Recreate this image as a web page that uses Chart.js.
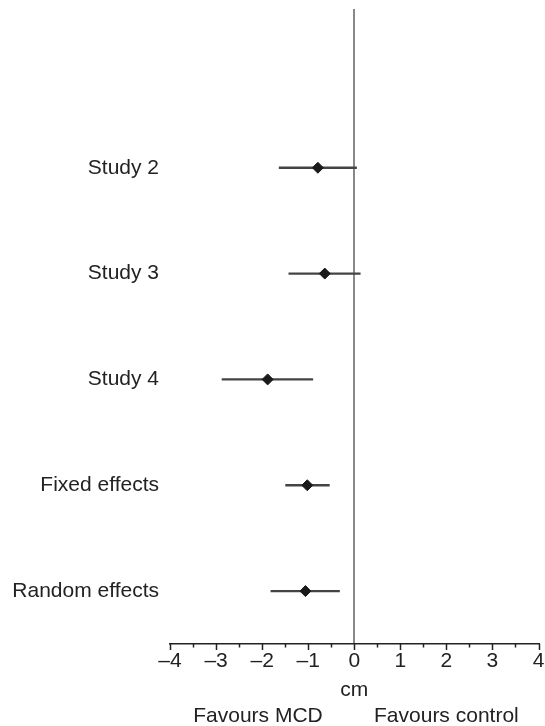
<!DOCTYPE html>
<html lang="en">
<head>
    <meta charset="UTF-8">
    <title>Forest plot</title>
    <script src="https://cdn.jsdelivr.net/npm/chart.js"></script>
    <style>
        html, body { margin: 0; padding: 0; background: #fff; }
        #wrap { width: 545px; height: 726px; }
    </style>
</head>
<body>
    <div id="wrap"><canvas id="forest"></canvas></div>

    <script>
        // Study rows (the top slot is left empty, as in the original figure)
        const studies = ['Study 2', 'Study 3', 'Study 4', 'Fixed effects', 'Random effects'];
        const means = [-0.79, -0.64, -1.88, -1.02, -1.06];
        const lower = [-1.63, -1.42, -2.87, -1.49, -1.81];
        const upper = [0.05, 0.13, -0.90, -0.54, -0.32];
        const xTicks = [-4, -3, -2, -1, 0, 1, 2, 3, 4];
        const rowLabels = [''].concat(studies);

        const FONT = '"Liberation Sans", Arial, sans-serif';
        const INK = '#222';

        // tick marks hang below the axis, long at whole units, short at halves
        const axisExtras = {
            id: 'axisExtras',
            afterDraw(chart) {
                const x = chart.scales.x;
                const ctx = chart.ctx;
                const y0 = x.top;
                ctx.save();
                ctx.strokeStyle = INK;
                ctx.lineWidth = 1.5;
                for (let v = xTicks[0]; v <= xTicks[xTicks.length - 1]; v += 0.5) {
                    const px = Math.round(x.getPixelForValue(v)) + 0.5;
                    const len = Number.isInteger(v) ? 6 : 3.5;
                    ctx.beginPath();
                    ctx.moveTo(px, y0);
                    ctx.lineTo(px, y0 + len);
                    ctx.stroke();
                }
                ctx.fillStyle = INK;
                ctx.font = '21px ' + FONT;
                ctx.textAlign = 'center';
                ctx.textBaseline = 'middle';
                ctx.fillText('cm', x.getPixelForValue(0), y0 + 46);
                ctx.fillText('Favours MCD', x.getPixelForValue(-2.09), y0 + 72);
                ctx.fillText('Favours control', x.getPixelForValue(2.0), y0 + 72);
                ctx.restore();
            }
        };

        new Chart(document.getElementById('forest'), {
            type: 'bar',
            data: {
                labels: rowLabels,
                datasets: [
                    {
                        // confidence intervals as thin floating bars
                        type: 'bar',
                        data: studies.map((s, i) => ({ y: s, x: [lower[i], upper[i]] })),
                        backgroundColor: '#444',
                        borderWidth: 0,
                        barThickness: 1.6,
                        order: 2
                    },
                    {
                        type: 'line',
                        data: studies.map((s, i) => ({ y: s, x: means[i] })),
                        showLine: false,
                        pointStyle: 'rectRot',
                        pointRadius: 5.5,
                        pointBackgroundColor: '#1a1a1a',
                        pointBorderColor: '#1a1a1a',
                        pointBorderWidth: 1,
                        order: 1
                    }
                ]
            },
            options: {
                indexAxis: 'y',
                responsive: true,
                maintainAspectRatio: false,
                animation: false,
                layout: { padding: { top: 9, right: 5, left: 0, bottom: 0 } },
                plugins: {
                    legend: { display: false },
                    tooltip: { enabled: false }
                },
                scales: {
                    x: {
                        type: 'linear',
                        min: -4,
                        max: 4,
                        border: { display: true, color: INK, width: 1.5 },
                        grid: {
                            drawTicks: false,
                            lineWidth: 2,
                            color: ctx => ctx.tick && ctx.tick.value === 0 ? '#888' : 'rgba(0,0,0,0)'
                        },
                        ticks: {
                            stepSize: 1,
                            padding: 5,
                            color: INK,
                            font: { family: FONT, size: 21 },
                            callback: v => (v < 0 ? '\u2013' + Math.abs(v) : String(v))
                        },
                        afterFit(scale) {
                            scale.height = 82;
                            scale.paddingLeft = 0;
                            scale.paddingRight = 0;
                        }
                    },
                    y: {
                        type: 'category',
                        offset: true,
                        border: { display: false },
                        grid: { display: false, drawTicks: false },
                        ticks: {
                            padding: 11,
                            color: INK,
                            font: { family: FONT, size: 21 }
                        },
                        afterFit(scale) {
                            scale.width = 170;
                            scale.paddingTop = 0;
                            scale.paddingBottom = 0;
                        }
                    }
                }
            },
            plugins: [axisExtras]
        });
    </script>
</body>
</html>
